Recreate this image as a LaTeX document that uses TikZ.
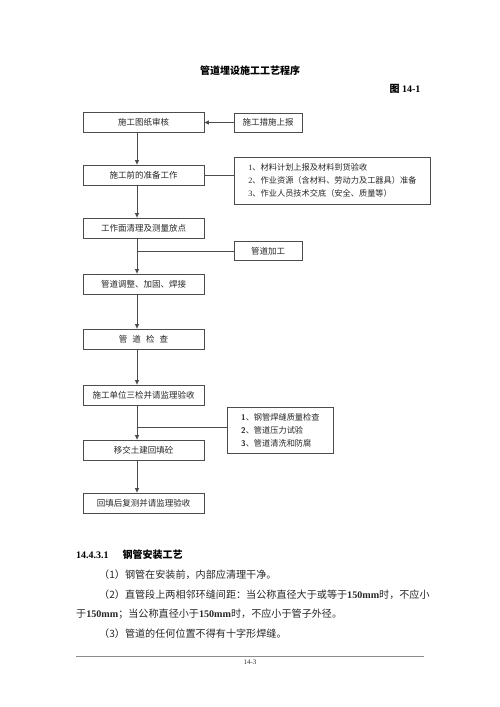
\documentclass[tikz,border=0pt]{standalone}
\usepackage{fontspec}
\setmainfont{Liberation Serif}
\newfontfamily\cjk{Noto Sans CJK SC}
\usetikzlibrary{arrows.meta}
\begin{document}
\begin{tikzpicture}[x=1pt,y=-1pt,
  ln/.style={draw=black!70, line width=0.8pt},
  arr/.style={ln, -{Triangle[length=4.5pt,width=4pt]}},
  box/.style={draw=black!70, line width=0.8pt, inner sep=0pt, text=black!85,
    font=\cjk\fontsize{8.5}{10}\selectfont},
  mainbox/.style={box, minimum width=121pt, minimum height=20pt},
  smallbox/.style={box, minimum width=68pt, minimum height=19pt},
  listbox/.style={box, align=left, anchor=west, inner xsep=7pt, font=\cjk\fontsize{8.2}{13}\selectfont},
  body/.style={anchor=base west, inner sep=0pt, font=\cjk\fontsize{10.1}{12}\selectfont, text=black!85}]
\useasboundingbox (0,0) rectangle (500,707);
% title
\node[font=\cjk\bfseries\fontsize{10}{12}\selectfont] (title) at (250,71) {管道埋设施工工艺程序};
\node[anchor=east, font=\bfseries\fontsize{10}{12}\selectfont] (fig) at (424,89) {{\cjk 图} 14-1};
% spine
\coordinate (sp) at (137,0);
% main boxes
\node[mainbox] (b1) at (143.5,122.5) {施工图纸审核};
\node[mainbox] (b2) at (143.5,175) {施工前的准备工作};
\node[mainbox] (b3) at (143.5,228) {工作面清理及测量放点};
\node[mainbox] (b4) at (143.5,284) {管道调整、加固、焊接};
\node[mainbox] (b5) at (143.5,339) {管\hspace{0.6em}道\hspace{0.6em}检\hspace{0.6em}查};
\node[mainbox] (b6) at (143.5,395) {施工单位三检并请监理验收};
\node[mainbox] (b7) at (143.5,450) {移交土建回填砼};
\node[mainbox] (b8) at (143.5,503) {回填后复测并请监理验收};
% side boxes
\node[smallbox] (s1) at (268,122.5) {施工措施上报};
\node[smallbox] (s3) at (268,251) {管道加工};
\node[listbox, minimum width=196pt, minimum height=47pt] (s2) at (234,180.5)
  {{\rmfamily 1}、材料计划上报及材料到货验收\\
   {\rmfamily 2}、作业资源（含材料、劳动力及工器具）准备\\
   {\rmfamily 3}、作业人员技术交底（安全、质量等）};
\node[listbox, minimum width=106pt, minimum height=46pt] (s4) at (227,430)
  {{\sffamily\bfseries 1}、钢管焊缝质量检查\\
   {\sffamily\bfseries 2}、管道压力试验\\
   {\sffamily\bfseries 3}、管道清洗和防腐};
% connectors
\draw[arr] (s1.west) -- (b1.east);
\draw[arr] (b1.south -| sp) -- (b2.north -| sp);
\draw[arr] (b2.south -| sp) -- (b3.north -| sp);
\draw[arr] (b3.south -| sp) -- (b4.north -| sp);
\draw[arr] (b4.south -| sp) -- (b5.north -| sp);
\draw[arr] (b5.south -| sp) -- (b6.north -| sp);
\draw[arr] (b6.south -| sp) -- (b7.north -| sp);
\draw[arr] (b7.south -| sp) -- (b8.north -| sp);
\draw[ln] (b2.east) -- (b2.east -| s2.west);
\draw[ln] (s3.west -| sp) -- (s3.west);
\coordinate (j4) at (137,427);
\draw[ln] (j4) -- (j4 -| s4.west);
% text below
\node[anchor=base west, inner sep=0pt, font=\bfseries\fontsize{10}{12}\selectfont] (h) at (76,558) {14.4.3.1\hspace{14pt}{\cjk 钢管安装工艺}};
\node[body] (p1) at (99,578) {（1）钢管在安装前，内部应清理干净。};
\node[body] (p2) at (99,598) {（2）直管段上两相邻环缝间距：当公称直径大于或等于{\rmfamily\bfseries 150mm}时，不应小};
\node[body] (p3) at (76,617) {于{\rmfamily\bfseries 150mm}；当公称直径小于{\rmfamily\bfseries 150mm}时，不应小于管子外径。};
\node[body] (p4) at (99,637) {（3）管道的任何位置不得有十字形焊缝。};
\coordinate (r1) at (76,656);
\coordinate (r2) at (424,656);
\draw[draw=black!45, line width=1pt] (r1) -- (r2);
\node[font=\fontsize{7}{8}\selectfont, text=black!80] (pg) at (250,662) {14-3};
\end{tikzpicture}
\end{document}
